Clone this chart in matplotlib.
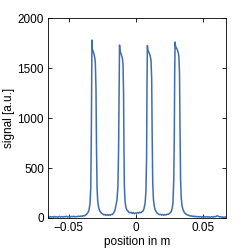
import matplotlib
matplotlib.use("Agg")
import matplotlib.pyplot as plt
from matplotlib.ticker import FuncFormatter

plt.rcParams['font.family'] = ['Liberation Sans', 'DejaVu Sans']

position = [
    -0.0655, -0.0648, -0.0640, -0.0632, -0.0624, -0.0615, -0.0607, -0.0598, -0.0590,
    -0.0580, -0.0571, -0.0562, -0.0553, -0.0544, -0.0535, -0.0526, -0.0517, -0.0508,
    -0.0499, -0.0490, -0.0481, -0.0472, -0.0463, -0.0454, -0.0445, -0.0436, -0.0427,
    -0.0418, -0.0409, -0.0400, -0.0392, -0.0384, -0.0376, -0.0368,
    -0.0360, -0.0350, -0.0342, -0.0336, -0.0332, -0.0329,
    -0.0327, -0.0324, -0.0319, -0.0313, -0.0307, -0.0302, -0.0297, -0.0293, -0.0289,
    -0.0284, -0.0278, -0.0270, -0.0262, -0.0254, -0.0246, -0.0238, -0.0230, -0.0222,
    -0.0214, -0.0206, -0.0198, -0.0190, -0.0182, -0.0174, -0.0166, -0.0156, -0.0148,
    -0.0140, -0.0133, -0.0128, -0.0124, -0.0121, -0.0118, -0.0113, -0.0107, -0.0100,
    -0.0095, -0.0091, -0.0088, -0.0085, -0.0080, -0.0074, -0.0066, -0.0058, -0.0050,
    -0.0042, -0.0034, -0.0026, -0.0018, -0.0010, -0.0002, 0.0006, 0.0014, 0.0022,
    0.0030, 0.0038, 0.0046, 0.0054, 0.0062, 0.0070,
    0.0076, 0.0081, 0.0084, 0.0087, 0.0090, 0.0095, 0.0101, 0.0108, 0.0114, 0.0119,
    0.0123, 0.0127, 0.0132, 0.0138, 0.0146, 0.0154, 0.0162, 0.0170, 0.0178, 0.0186,
    0.0194, 0.0202, 0.0210, 0.0218, 0.0226, 0.0234, 0.0242, 0.0250, 0.0258, 0.0266,
    0.0272, 0.0278,
    0.0284, 0.0288, 0.0291, 0.0294, 0.0297, 0.0302, 0.0309, 0.0316, 0.0322, 0.0327,
    0.0331, 0.0335, 0.0340, 0.0346, 0.0354, 0.0362, 0.0370, 0.0378, 0.0386, 0.0394,
    0.0402, 0.0410, 0.0418, 0.0426, 0.0434, 0.0442, 0.0450, 0.0458, 0.0466, 0.0474,
    0.0482, 0.0490, 0.0498, 0.0506, 0.0514, 0.0522, 0.0530, 0.0538, 0.0546, 0.0554,
    0.0562, 0.0570, 0.0578, 0.0586, 0.0594, 0.0602, 0.0610, 0.0618, 0.0626, 0.0634,
    0.0642, 0.0650, 0.0658, 0.0666, 0.0675,
]

signal = [
    12, 6, 15, 9, 13, 7, 16, 10, 12,
    8, 17, 10, 14, 9, 15, 11, 18, 10,
    14, 9, 16, 12, 18, 11, 15, 13, 19,
    14, 20, 17, 24, 21, 29, 36,
    48, 75, 140, 300, 800, 1450,
    1780, 1690, 1670, 1645, 1610, 1560, 1300, 700, 300,
    170, 110, 72, 58, 45, 40, 31, 36, 27,
    34, 26, 33, 28, 37, 35, 50, 75, 130,
    180, 320, 700, 1350, 1730, 1670, 1655, 1630, 1600,
    1540, 1250, 700, 320, 170, 110, 80, 68, 58,
    52, 57, 46, 53, 44, 50, 47, 55, 49,
    58, 52, 62, 68, 95, 150,
    260, 600, 1300, 1725, 1680, 1665, 1650, 1620, 1580, 1400,
    800, 350, 190, 120, 80, 60, 46, 40, 33, 37,
    29, 35, 28, 34, 30, 38, 36, 44, 52, 68,
    95, 150,
    380, 800, 1450, 1760, 1720, 1705, 1690, 1660, 1620, 1450,
    850, 380, 200, 120, 80, 58, 44, 38, 30, 27,
    24, 18, 22, 15, 19, 13, 17, 11, 15, 10,
    14, 9, 13, 8, 12, 10, 14, 9, 12, 8,
    11, 13, 9, 14, 12, 18, 22, 16, 11, 13,
    8, 11, 7, 10, 9,
]

xticks = [-0.05, 0, 0.05]
yticks = [0, 500, 1000, 1500, 2000]

fig = plt.figure(figsize=(2.49, 2.49), dpi=100)
ax = fig.add_axes([0.193, 0.1245, 0.715, 0.803])
ax.plot(position, signal, color='#3f6db4', linewidth=1.1)

ax.set_xlim(-0.0655, 0.0675)
ax.set_ylim(0, 2000)
ax.set_xticks(xticks)
ax.set_yticks(yticks)

def fmt(v, pos):
    if abs(v) < 1e-12:
        return '0'
    s = ('%g' % v)
    return s.replace('-', '\u2212')

ax.xaxis.set_major_formatter(FuncFormatter(fmt))
ax.tick_params(direction='in', length=3, width=0.6, labelsize=8.5, top=True, right=True, pad=3)
for sp in ax.spines.values():
    sp.set_linewidth(0.6)
ax.set_xlabel('position in m', fontsize=8.5, labelpad=1)
ax.set_ylabel('signal [a.u.]', fontsize=8.5, labelpad=2)

fig.savefig('out.png', dpi=100)
